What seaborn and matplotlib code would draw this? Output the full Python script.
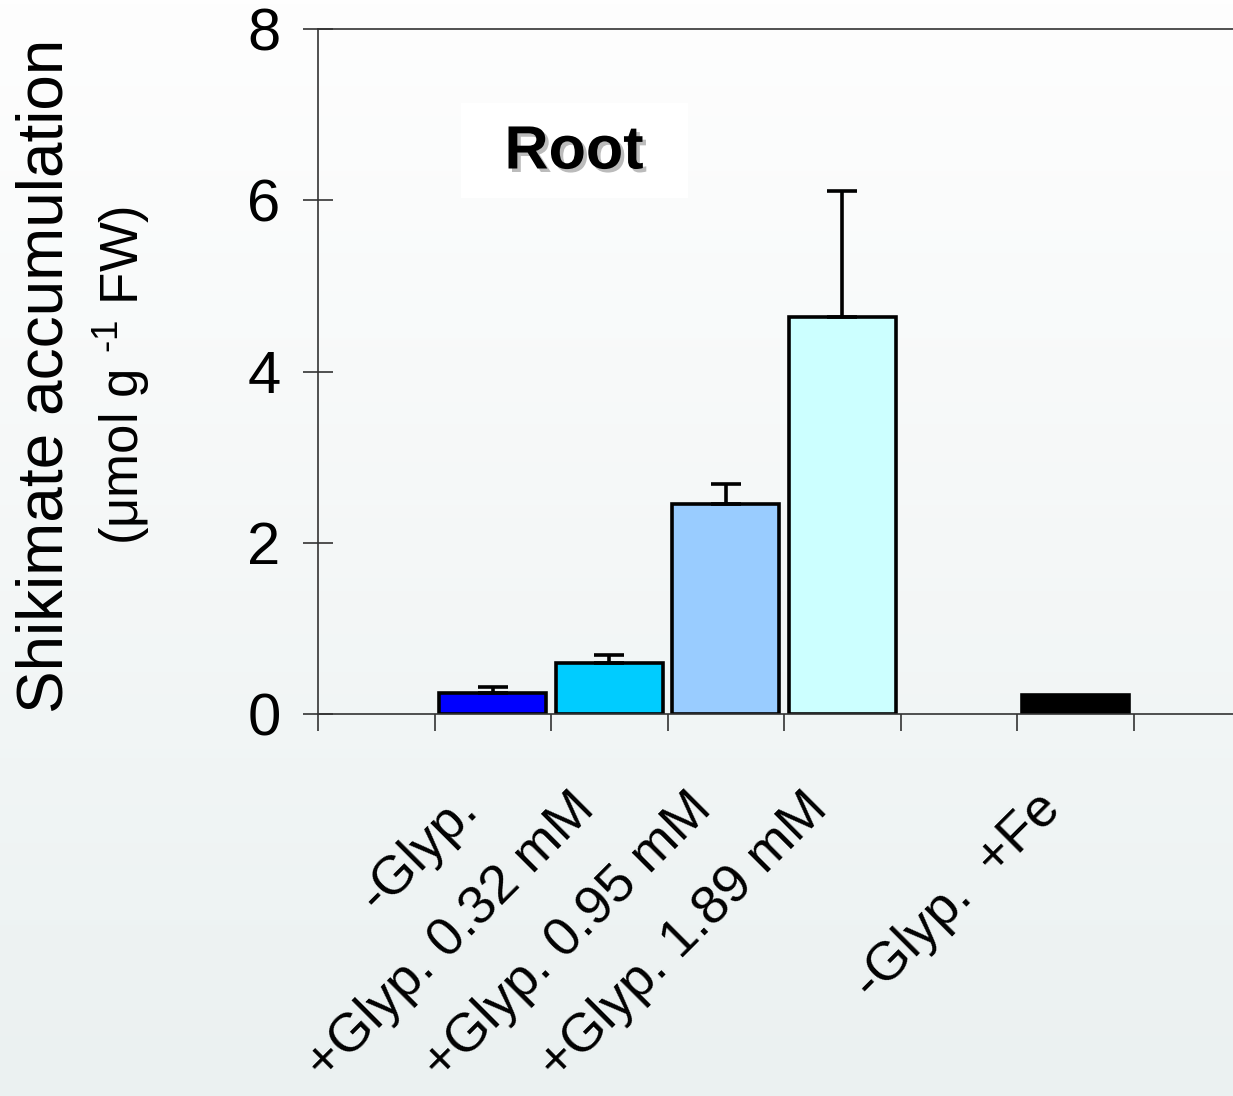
import numpy as np
import pandas as pd
import matplotlib
matplotlib.use("Agg")
import matplotlib.pyplot as plt
import matplotlib.patheffects as pe
import matplotlib.transforms as mtransforms
from matplotlib.patches import Rectangle
import seaborn as sns

# ---- data ----
treatments = ["-Glyp.", "+Glyp. 0.32 mM", "+Glyp. 0.95 mM", "+Glyp. 1.89 mM", "-Glyp.  +Fe"]
shikimate = [0.25, 0.60, 2.45, 4.64, 0.22]
sem = [0.06, 0.09, 0.24, 1.47, 0.0]
bar_colors = ["#0000FF", "#00CCFF", "#99CCFF", "#CCFFFF", "#000000"]
# category slots on the axis (empty slots are spacers)
slot_order = ["_gap0", "-Glyp.", "+Glyp. 0.32 mM", "+Glyp. 0.95 mM", "+Glyp. 1.89 mM",
              "_gap1", "-Glyp.  +Fe", "_gap2"]
y_ticks = [0, 2, 4, 6, 8]

df = pd.DataFrame({"treatment": treatments, "shikimate": shikimate})

sns.set_theme(style="ticks")
plt.rcParams["font.family"] = ["Liberation Sans", "DejaVu Sans"]
plt.rcParams["mathtext.fontset"] = "custom"
plt.rcParams["mathtext.rm"] = "Liberation Sans"
plt.rcParams["mathtext.it"] = "Liberation Sans:italic"
plt.rcParams["mathtext.bf"] = "Liberation Sans:bold"
plt.rcParams["text.color"] = "black"
plt.rcParams["xtick.color"] = "#333333"
plt.rcParams["ytick.color"] = "#333333"
plt.rcParams["xtick.labelcolor"] = "black"
plt.rcParams["ytick.labelcolor"] = "black"

W, H = 1233, 1096
fig = plt.figure(figsize=(W / 100, H / 100), dpi=100)

# background gradient
bg = fig.add_axes([0, 0, 1, 1], zorder=-10)
top = np.array([254, 254, 254]) / 255
bot = np.array([235, 241, 241]) / 255
t = np.linspace(0, 1, 256)[:, None]
grad = (top[None, :] * (1 - t) + bot[None, :] * t)[:, None, :]
bg.imshow(grad, aspect="auto", extent=[0, 1, 0, 1])
bg.set_axis_off()

ax = fig.add_axes([318 / W, 382 / H, 932 / W, 685 / H])
ax.set_facecolor("none")

sns.barplot(data=df, x="treatment", y="shikimate", hue="treatment",
            order=slot_order, hue_order=treatments,
            palette=dict(zip(treatments, bar_colors)), saturation=1,
            width=0.92, edgecolor="black", linewidth=2.6,
            legend=False, ax=ax, errorbar=None)

pos = np.array([slot_order.index(c) for c in treatments], dtype=float)
means = np.array(shikimate)
errs = np.array(sem)
mask = errs > 0
ax.errorbar(pos[mask], means[mask], yerr=[np.zeros(mask.sum()), errs[mask]],
            fmt="none", ecolor="black", elinewidth=2.6, capsize=11, capthick=2.6,
            zorder=5)

ax.set_xlim(-0.5, len(slot_order) - 0.5)
ax.set_ylim(0, 8)
ax.set_yticks(y_ticks)
ax.set_yticklabels([str(v) for v in y_ticks], fontsize=43)
ax.tick_params(axis="y", direction="inout", length=22, width=1.2, pad=16)

xt_labels = [c if not c.startswith("_gap") else "" for c in slot_order]
ax.set_xticks(range(len(slot_order)))
ax.set_xticklabels(xt_labels, fontsize=39, rotation=45, ha="right", va="top",
                   rotation_mode="anchor")
ax.tick_params(axis="x", which="major", length=0, pad=50)
shift = mtransforms.ScaledTranslation(-0.40, 0, fig.dpi_scale_trans)
for lbl in ax.get_xticklabels():
    lbl.set_transform(lbl.get_transform() + shift)
ax.set_xticks(np.arange(-0.5, len(slot_order), 1.0), minor=True)
ax.tick_params(axis="x", which="minor", direction="out", length=12, width=1.2)

for side in ["left", "bottom", "top", "right"]:
    ax.spines[side].set_color("#333333")
    ax.spines[side].set_linewidth(1.2)
ax.set_xlabel("")
ax.set_ylabel("")

# y-axis title (two lines, different sizes)
fig.text(46 / W, 1 - 376 / H, "Shikimate accumulation", rotation=90,
         ha="center", va="center", fontsize=46)
fig.text(122 / W, 1 - 375 / H, r"(μmol g $^{\text{-1}}$ FW)", rotation=90,
         ha="center", va="center", fontsize=38)

# "Root" label in white box
fig.add_artist(Rectangle((461 / W, 1 - 198 / H), 227 / W, 95 / H,
                         transform=fig.transFigure, facecolor="white",
                         edgecolor="none", zorder=3))
fig.text(574 / W, 1 - 153 / H, "Root", ha="center", va="center",
         fontsize=44, fontweight="bold", zorder=4,
         path_effects=[pe.withSimplePatchShadow(offset=(2.5, -2.5),
                                                shadow_rgbFace="#555555", alpha=0.4)])

fig.savefig("out.png", dpi=100)
